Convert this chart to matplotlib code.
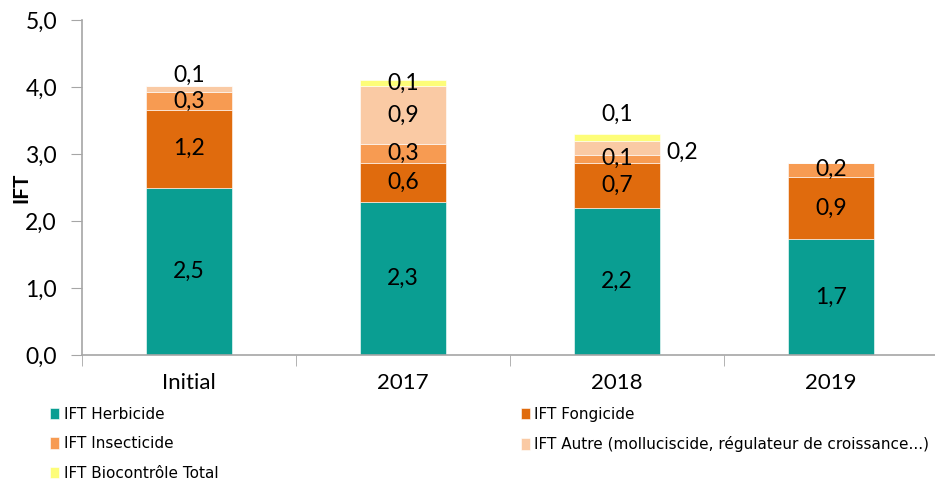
import numpy as np
import matplotlib
matplotlib.use("Agg")
from matplotlib import pyplot as plt

categories = ["Initial", "2017", "2018", "2019"]
series = [
    "IFT Herbicide",
    "IFT Fongicide",
    "IFT Insecticide",
    "IFT Autre (molluciscide, régulateur de croissance...)",
    "IFT Biocontrôle Total",
]
herbicide = [2.50, 2.29, 2.20, 1.73]
fongicide = [1.16, 0.58, 0.67, 0.93]
insecticide = [0.26, 0.28, 0.12, 0.21]
autre = [0.10, 0.86, 0.20, 0.0]
biocontrole = [0.0, 0.10, 0.11, 0.0]
values = [herbicide, fongicide, insecticide, autre, biocontrole]
colors = ["#0a9e92", "#e06b0d", "#f79b52", "#facaa4", "#fdfd78"]

plt.rcParams['font.family'] = ['Lato', 'DejaVu Sans']

fig = plt.figure(figsize=(9.35, 4.8), dpi=100)
ax = fig.add_axes([82/935, 125/480, 856/935, 335/480])

x = np.arange(len(categories))
width = 0.4
bottom = np.zeros(len(categories))

# labels that sit outside their segment (series index, category index)
special = {
    (3, 0): "above",
    (4, 2): "above2",
    (3, 2): "right",
}

for si, (name, vals, col) in enumerate(zip(series, values, colors)):
    vals = np.array(vals)
    ax.bar(x, vals, width, bottom=bottom, color=col, label=name,
           edgecolor="white", linewidth=0.4)
    for ci, v in enumerate(vals):
        if v <= 0:
            continue
        txt = f"{v:.1f}".replace(".", ",")
        xc, yc, ha = x[ci], bottom[ci] + v / 2, "center"
        mode = special.get((si, ci))
        if mode == "above":
            yc = bottom[ci] + v + 0.15
        elif mode == "above2":
            yc = bottom[ci] + v + 0.29
        elif mode == "right":
            xc, yc, ha = x[ci] + 0.23, bottom[ci] + v / 2 - 0.06, "left"
        ax.text(xc, yc, txt, ha=ha, va="center", fontsize=16.5, color="black")
    bottom += vals

ax.set_xlim(-0.5, 3.5)
ax.set_ylim(0, 5)
yt = np.arange(0, 5.01, 1.0)
ax.set_yticks(yt)
ax.set_yticklabels([f"{t:.1f}".replace(".", ",") for t in yt], fontsize=16.5)
ax.set_xticks(x)
ax.set_xticklabels(categories, fontsize=16)
ax.set_xticks(np.arange(-0.5, 3.6, 1.0), minor=True)
ax.tick_params(axis="x", which="major", length=0, pad=13)
ax.tick_params(axis="x", which="minor", length=8, color="#a6a6a6")
ax.tick_params(axis="y", length=8, color="#a6a6a6", pad=10)
for s in ["top", "right"]:
    ax.spines[s].set_visible(False)
for s in ["left", "bottom"]:
    ax.spines[s].set_color("#a6a6a6")
    ax.spines[s].set_linewidth(1.2)

ax.set_ylabel("IFT", fontsize=15, fontweight="bold", labelpad=-4)

handles, labels = ax.get_legend_handles_labels()
leg_font = {"family": ["DejaVu Sans"], "size": 11}
fig.legend([handles[i] for i in (0, 2, 4)], [labels[i] for i in (0, 2, 4)],
           loc="upper left", bbox_to_anchor=(36/935, 1 - 393/480),
           frameon=False, prop=leg_font, handlelength=0.6, handleheight=0.8,
           handletextpad=0.3, labelspacing=0.95)
fig.legend([handles[i] for i in (1, 3)], [labels[i] for i in (1, 3)],
           loc="upper left", bbox_to_anchor=(507/935, 1 - 393/480),
           frameon=False, prop=leg_font, handlelength=0.6, handleheight=0.8,
           handletextpad=0.3, labelspacing=0.95)

fig.savefig("out.png", dpi=100)
